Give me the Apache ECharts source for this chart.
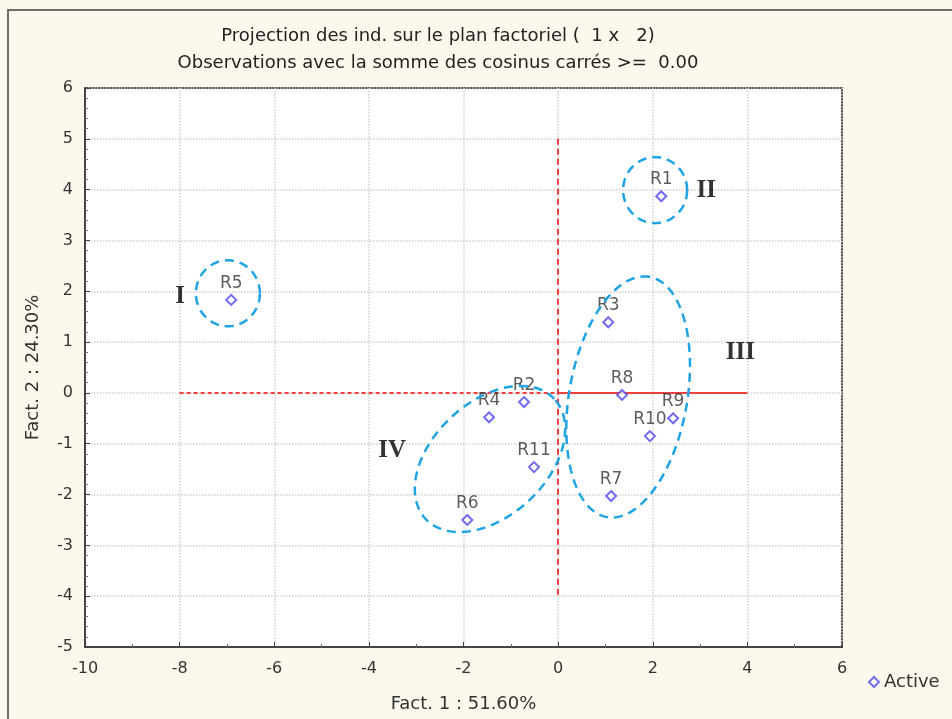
<!DOCTYPE html>
<html>
<head>
<meta charset="utf-8">
<script src="https://cdn.jsdelivr.net/npm/echarts@6/dist/echarts.min.js"></script>
<style>
html,body{margin:0;padding:0;background:#fcf8ed;}
#chart{width:952px;height:719px;}
</style>
</head>
<body>
<div id="chart"></div>
<script>
// Observation labels and coordinates (Fact. 1, Fact. 2)
var names = ['R1','R2','R3','R4','R5','R6','R7','R8','R9','R10','R11'];
var fact1 = [2.18, -0.72, 1.06, -1.46, -6.91, -1.92, 1.12, 1.35, 2.43, 1.94, -0.51];
var fact2 = [3.87, -0.18, 1.39, -0.48, 1.83, -2.50, -2.03, -0.04, -0.50, -0.85, -1.46];

// Tick range
var xTicks = [-10, -8, -6, -4, -2, 0, 2, 4, 6];
var yTicks = [-5, -4, -3, -2, -1, 0, 1, 2, 3, 4, 5, 6];

// Group annotations: label, centre (data units), semi-axes and tilt
var groupLabels = ['I', 'II', 'III', 'IV'];
var groupLabelX = [-7.99, 3.13, 3.85, -3.51];
var groupLabelY = [1.89, 3.99, 0.80, -1.13];
var ellCx = [-6.98, 2.05, 1.48, -1.44];
var ellCy = [1.96, 3.99, -0.08, -1.30];
var ellA = [32, 32, 122, 88];     // semi-axis along tilt direction (px)
var ellB = [33, 33, 59, 57];      // perpendicular semi-axis (px)
var ellAngle = [0, 0, 80, 43];    // tilt of first semi-axis, degrees counter-clockwise

var pts = names.map(function (n, i) { return { name: n, value: [fact1[i], fact2[i]] }; });
var grpPts = groupLabels.map(function (n, i) { return { name: n, value: [groupLabelX[i], groupLabelY[i]] }; });
var ellData = ellCx.map(function (c, i) { return [c, ellCy[i], ellA[i], ellB[i], ellAngle[i]]; });

var chart = echarts.init(document.getElementById('chart'));
var font = '"DejaVu Sans", Verdana, sans-serif';

chart.setOption({
  backgroundColor: '#fcf8ed',
  animation: false,
  title: {
    text: 'Projection des ind. sur le plan factoriel (  1 x   2)\nObservations avec la somme des cosinus carrés >=  0.00',
    left: 433, top: 18, textAlign: 'center',
    textStyle: { fontFamily: font, fontSize: 18, fontWeight: 'normal', color: '#222', lineHeight: 27 }
  },
  graphic: [
    { type: 'polyline', shape: { points: [[8, 719], [8, 10], [952, 10]] }, style: { stroke: '#6e6e6e', lineWidth: 2, fill: null }, silent: true }
  ],
  legend: {
    left: 863, top: 668, itemWidth: 10, itemHeight: 10, itemGap: 6,
    data: [{ name: 'Active', icon: 'emptyDiamond' }],
    textStyle: { fontFamily: font, fontSize: 18, color: '#333' }
  },
  grid: { left: 85, top: 88, width: 757, height: 559, show: true, backgroundColor: '#fff', borderColor: '#444', borderWidth: 2 },
  xAxis: {
    type: 'value', min: xTicks[0], max: xTicks[xTicks.length - 1], interval: 2,
    name: 'Fact. 1 : 51.60%', nameLocation: 'middle', nameGap: 48,
    nameTextStyle: { fontFamily: font, fontSize: 18, color: '#333' },
    axisLine: { show: true, onZero: false, lineStyle: { color: '#444', width: 2 } },
    axisTick: { show: true, inside: true, length: 5, lineStyle: { color: '#444' } },
    minorTick: { show: true, splitNumber: 2, length: 3, lineStyle: { color: '#666' } },
    axisLabel: { fontFamily: font, fontSize: 16, color: '#333', margin: 14 },
    splitLine: { show: true, lineStyle: { color: '#cfcfcf', type: 'dotted', width: 1.5 } }
  },
  yAxis: {
    type: 'value', min: yTicks[0], max: yTicks[yTicks.length - 1], interval: 1,
    name: 'Fact. 2 : 24.30%', nameLocation: 'middle', nameGap: 43,
    nameTextStyle: { fontFamily: font, fontSize: 18, color: '#333' },
    axisLine: { show: true, onZero: false, lineStyle: { color: '#444', width: 2 } },
    axisTick: { show: true, inside: true, length: 5, lineStyle: { color: '#444' } },
    minorTick: { show: true, splitNumber: 5, length: 3, lineStyle: { color: '#777' } },
    axisLabel: { fontFamily: font, fontSize: 16, color: '#333', margin: 12 },
    splitLine: { show: true, lineStyle: { color: '#cfcfcf', type: 'dotted', width: 1.5 } }
  },
  series: [
    {
      name: 'axes', type: 'line', data: [], silent: true,
      markLine: {
        silent: true, symbol: 'none', label: { show: false },
        data: [
          [{ coord: [-8, 0], lineStyle: { type: [4, 3] } }, { coord: [0, 0] }],
          [{ coord: [0, 0], lineStyle: { type: 'solid' } }, { coord: [4, 0] }],
          [{ coord: [0, 5], lineStyle: { type: [6, 4] } }, { coord: [0, -4] }]
        ],
        lineStyle: { color: '#f04040', width: 2 }
      }
    },
    {
      name: 'Active', type: 'scatter', data: pts,
      symbol: 'emptyDiamond', symbolSize: 10,
      itemStyle: { color: '#4f46f0', borderWidth: 1.6 },
      label: { show: true, position: 'top', distance: 2, formatter: '{b}', fontFamily: font, fontSize: 17, color: '#333' },
      z: 5
    },
    {
      name: 'groups', type: 'custom', data: ellData, silent: true, z: 6,
      renderItem: function (params, api) {
        var c = api.coord([api.value(0), api.value(1)]);
        var a = api.value(2), b = api.value(3), ang = api.value(4) * Math.PI / 180;
        var ca = Math.cos(ang), sa = Math.sin(ang);
        var p = [];
        for (var k = 0; k <= 120; k++) {
          var t = k / 120 * Math.PI * 2;
          var ex = a * Math.cos(t), ey = b * Math.sin(t);
          p.push([c[0] + ex * ca - ey * sa, c[1] - (ex * sa + ey * ca)]);
        }
        return { type: 'polyline', shape: { points: p }, style: { stroke: '#1ea3e3', lineWidth: 2.5, fill: null, lineDash: [9, 6] } };
      }
    },
    {
      name: 'groupLabels', type: 'scatter', data: grpPts, symbolSize: 2, silent: true,
      itemStyle: { color: 'rgba(0,0,0,0)' },
      label: { show: true, position: 'inside', formatter: '{b}', fontFamily: '"Liberation Serif", "Times New Roman", serif', fontWeight: 'bold', fontSize: 25, color: '#000' },
      z: 7
    }
  ]
});
</script>
</body>
</html>
